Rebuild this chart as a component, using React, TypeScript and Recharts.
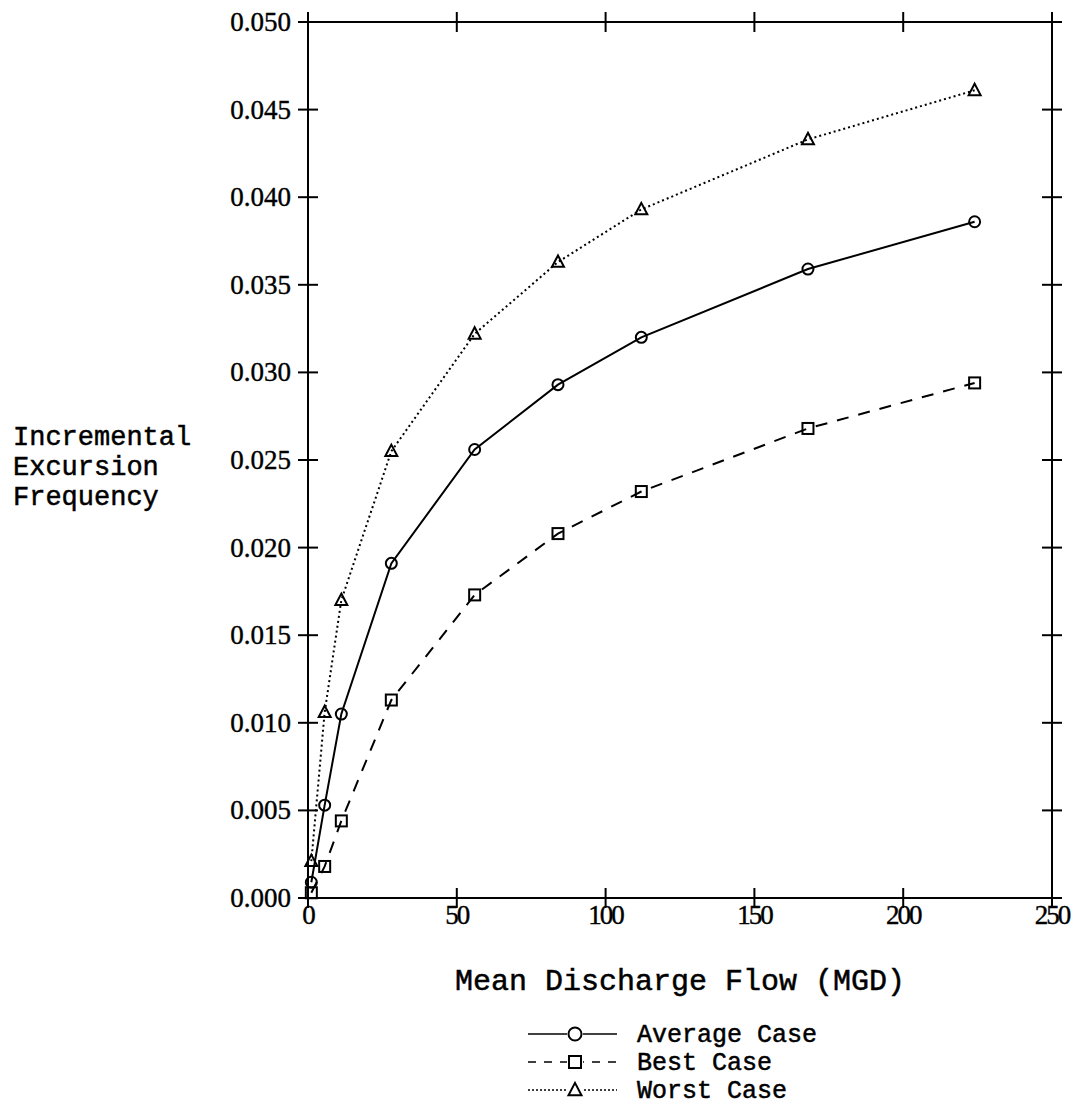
import React from 'react';
import {LineChart, Line, XAxis, YAxis, ReferenceLine, Legend, Label} from 'recharts';

const flow = [1.12, 5.6, 11.2, 28, 56, 84, 112, 168, 224];
const averageCase = [0.0009, 0.0053, 0.0105, 0.0191, 0.0256, 0.0293, 0.032, 0.0359, 0.0386];
const bestCase = [0.0003, 0.0018, 0.0044, 0.0113, 0.0173, 0.0208, 0.0232, 0.0268, 0.0294];
const worstCase = [0.0021, 0.0106, 0.017, 0.0255, 0.0322, 0.0363, 0.0393, 0.0433, 0.0461];
const xTicks = [0, 50, 100, 150, 200, 250];
const yTicks = [0, 0.005, 0.01, 0.015, 0.02, 0.025, 0.03, 0.035, 0.04, 0.045, 0.05];

const data = flow.map((x, i) => ({
    x,
    average: averageCase[i],
    best: bestCase[i],
    worst: worstCase[i],
}));

const W = 1066;
const H = 1098;
const MARGIN = {top: 14, right: 22, left: 220, bottom: 168};
const Y_AXIS_W = 80;
const X_AXIS_H = 40;
const PLOT_W = W - MARGIN.left - MARGIN.right - Y_AXIS_W;
const PLOT_H = H - MARGIN.top - MARGIN.bottom - X_AXIS_H;

const MONO = '"Liberation Mono", "DejaVu Sans Mono", monospace';
const SERIF = '"Liberation Serif", "DejaVu Serif", serif';
const INK = '#000';

// ticks cross the frame on both sides, mirrored onto top / right edges
const YTick = (props: any) => {
    const {x, y, payload} = props;
    return (
        <g>
            <line x1={x - 10} x2={x + 10} y1={y} y2={y} stroke={INK} strokeWidth={2}/>
            <line x1={x + PLOT_W - 10} x2={x + PLOT_W + 10} y1={y} y2={y} stroke={INK} strokeWidth={2}/>
            <text x={x - 17} y={y + 9} textAnchor="end" fontFamily={SERIF} fontSize={27}
                  stroke={INK} strokeWidth={0.4} fill={INK}>
                {payload.value.toFixed(3)}
            </text>
        </g>
    );
};

const XTick = (props: any) => {
    const {x, y, payload} = props;
    return (
        <g>
            <line x1={x} x2={x} y1={y - 10} y2={y + 10} stroke={INK} strokeWidth={2}/>
            <line x1={x} x2={x} y1={y - PLOT_H - 10} y2={y - PLOT_H + 10} stroke={INK} strokeWidth={2}/>
            <text x={x} y={y + 26} textAnchor="middle" fontFamily={SERIF} fontSize={27}
                  letterSpacing={-2} stroke={INK} strokeWidth={0.4} fill={INK}>
                {payload.value}
            </text>
        </g>
    );
};

const circleDot = (r: number) => (p: any) => (
    <circle key={`c-${p.index}`} cx={p.cx} cy={p.cy} r={r} fill="none" stroke={INK} strokeWidth={2}/>
);

const squareDot = (s: number) => (p: any) => (
    <rect key={`s-${p.index}`} x={p.cx - s / 2} y={p.cy - s / 2} width={s} height={s}
          fill="none" stroke={INK} strokeWidth={2}/>
);

const triangleDot = (s: number) => (p: any) => (
    <path key={`t-${p.index}`}
          d={`M${p.cx},${p.cy - s * 0.55} L${p.cx + s / 2},${p.cy + s * 0.4} L${p.cx - s / 2},${p.cy + s * 0.4} Z`}
          fill="none" stroke={INK} strokeWidth={2}/>
);

const legendRows = [
    {name: 'Average Case', dash: undefined, marker: 'circle'},
    {name: 'Best Case', dash: '8 8', marker: 'square'},
    {name: 'Worst Case', dash: '2 2', marker: 'triangle'},
];

const renderLegend = () => (
    <svg width={360} height={96}>
        {legendRows.map((row, i) => {
            const cy = 16 + i * 28;
            const p = {cx: 55, cy, index: i};
            return (
                <g key={row.name}>
                    <line x1={8} x2={97} y1={cy} y2={cy} stroke={INK} strokeWidth={1.5}
                          strokeDasharray={row.dash}/>
                    <rect x={47} y={cy - 8} width={16} height={16} fill="#fff"/>
                    {row.marker === 'circle' && circleDot(6.5)(p)}
                    {row.marker === 'square' && squareDot(12)(p)}
                    {row.marker === 'triangle' && triangleDot(13)(p)}
                    <text x={117} y={cy + 8} fontFamily={MONO} fontSize={25} fill={INK}
                          stroke={INK} strokeWidth={0.5}>{row.name}</text>
                </g>
            );
        })}
    </svg>
);

const YTitle = () => (
    <text fontFamily={MONO} fontSize={27} fill={INK} stroke={INK} strokeWidth={0.5}>
        <tspan x={5} y={437}>Incremental</tspan>
        <tspan x={5} y={467}>Excursion</tspan>
        <tspan x={5} y={497}>Frequency</tspan>
    </text>
);

const XTitle = () => (
    <text x={MARGIN.left + Y_AXIS_W + PLOT_W / 2} y={982} textAnchor="middle" fontFamily={MONO}
          fontSize={30} fill={INK} stroke={INK} strokeWidth={0.5}>
        Mean Discharge Flow (MGD)
    </text>
);

const App: React.FC = () => (
    <LineChart width={W} height={H} data={data} margin={MARGIN}>
        <XAxis dataKey="x" type="number" domain={[0, 250]} ticks={xTicks} height={X_AXIS_H}
               axisLine={{stroke: INK, strokeWidth: 2}} tickLine={false} tickSize={0} tickMargin={0}
               tick={<XTick/>} interval={0}>
            <Label content={<XTitle/>}/>
        </XAxis>
        <YAxis type="number" domain={[0, 0.05]} ticks={yTicks} width={Y_AXIS_W}
               axisLine={{stroke: INK, strokeWidth: 2}} tickLine={false} tickSize={0} tickMargin={0}
               tick={<YTick/>} interval={0}>
            <Label content={<YTitle/>}/>
        </YAxis>
        <ReferenceLine y={0.05} stroke={INK} strokeWidth={2}/>
        <ReferenceLine x={250} stroke={INK} strokeWidth={2}/>
        <Line dataKey="average" stroke={INK} strokeWidth={2} dot={circleDot(5.5)}
              isAnimationActive={false}/>
        <Line dataKey="best" stroke={INK} strokeWidth={2} strokeDasharray="12 10" dot={squareDot(11)}
              isAnimationActive={false}/>
        <Line dataKey="worst" stroke={INK} strokeWidth={2} strokeDasharray="2 3" dot={triangleDot(12)}
              isAnimationActive={false}/>
        <Legend content={renderLegend} layout="horizontal" verticalAlign="middle" align="center"
                wrapperStyle={{left: 512, top: 1010, width: 360, height: 96}}/>
    </LineChart>
);

export default App;
